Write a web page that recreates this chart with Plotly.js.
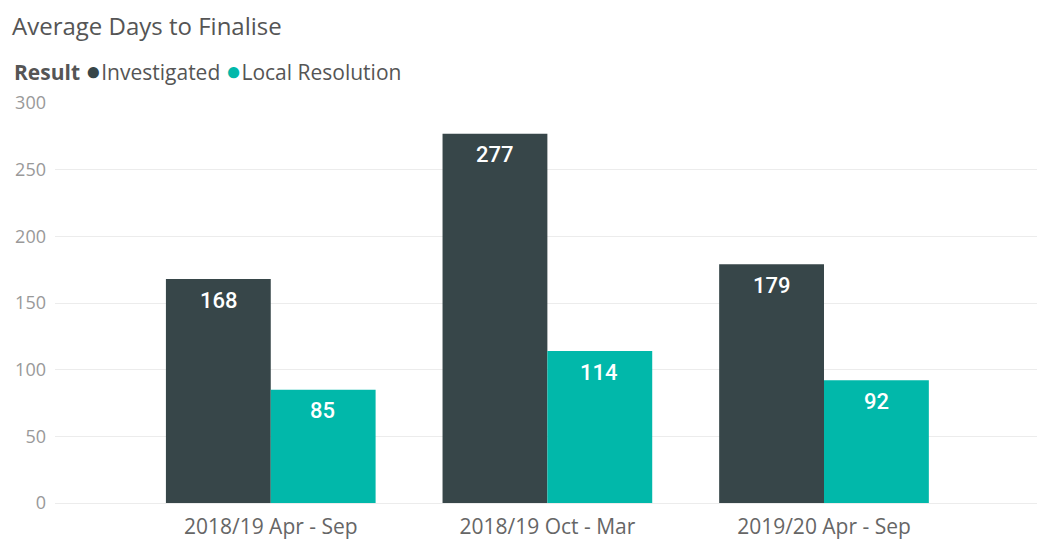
<!DOCTYPE html>
<html>
<head>
<meta charset="utf-8">
<script src="https://cdn.plot.ly/plotly-3.0.1.min.js"></script>
<style>html,body{margin:0;padding:0;background:#fff;}#chart{width:1040px;height:541px;}</style>
</head>
<body>
<div id="chart"></div>
<script>
const categories = ["2018/19 Apr - Sep", "2018/19 Oct - Mar", "2019/20 Apr - Sep"];
const seriesNames = ["Investigated", "Local Resolution"];
const investigated = [168, 277, 179];
const localResolution = [85, 114, 92];
const yTicks = [0, 50, 100, 150, 200, 250, 300];
const chartTitle = "Average Days to Finalise";
const legendTitle = "Result";

const colors = ["#374649", "#01B8AA"];
const seriesValues = [investigated, localResolution];
const barShift = [-52, 52];

const traces = seriesNames.map((name, i) => ({
  type: "bar",
  name: name,
  x: categories,
  y: seriesValues[i],
  marker: {color: colors[i], line: {width: 0}},
  hoverinfo: "x+y+name",
  showlegend: false
}));

const labelAnnotations = [];
seriesValues.forEach((vals, i) => {
  vals.forEach((v, j) => {
    labelAnnotations.push({
      x: categories[j], y: v, xref: "x", yref: "y",
      text: String(v),
      showarrow: false,
      xanchor: "center", yanchor: "middle",
      xshift: barShift[i], yshift: -21,
      font: {family: "Roboto, DejaVu Sans Condensed, sans-serif", size: 22, color: "#ffffff", weight: 500}
    });
  });
});

const legendText = "<b>" + legendTitle + "</b> " +
  seriesNames.map((n, i) => "<span style='color:" + colors[i] + ";font-size:26px'>●</span>" + n).join(" ");

const layout = {
  width: 1040,
  height: 541,
  paper_bgcolor: "#ffffff",
  plot_bgcolor: "#ffffff",
  font: {family: "Open Sans, Noto Sans, sans-serif", color: "#666666"},
  margin: {l: 55, r: 3, t: 103, b: 38},
  title: {
    text: chartTitle,
    x: 12 / 1040, xref: "container", xanchor: "left",
    y: 1 - 27 / 541, yref: "container", yanchor: "middle",
    font: {family: "Open Sans, Noto Sans, sans-serif", size: 24, color: "#555555"}
  },
  barmode: "group",
  bargap: 0.242,
  bargroupgap: 0,
  xaxis: {
    type: "category",
    range: [-0.78, 2.77],
    showgrid: false,
    zeroline: false,
    showline: false,
    ticks: "",
    tickfont: {size: 21, color: "#666666"},
    ticklabelstandoff: 9,
    fixedrange: true
  },
  yaxis: {
    range: [0, 300],
    tickvals: yTicks,
    ticktext: yTicks.map(String),
    showgrid: true,
    gridcolor: "#ececec",
    gridwidth: 1,
    zeroline: true,
    zerolinecolor: "#ececec",
    zerolinewidth: 1,
    showline: false,
    ticks: "",
    tickfont: {size: 18, color: "#999999"},
    ticklabelstandoff: 8,
    fixedrange: true
  },
  annotations: labelAnnotations.concat([{
    text: legendText,
    xref: "paper", yref: "paper",
    x: (12 - 55) / (1040 - 55 - 3), y: 1 + (103 - 70) / 400,
    xanchor: "left", yanchor: "middle",
    showarrow: false,
    align: "left",
    font: {family: "Open Sans, Noto Sans, sans-serif", size: 21, color: "#555555"}
  }])
};

Plotly.newPlot("chart", traces, layout, {displayModeBar: false, staticPlot: true});
</script>
</body>
</html>
